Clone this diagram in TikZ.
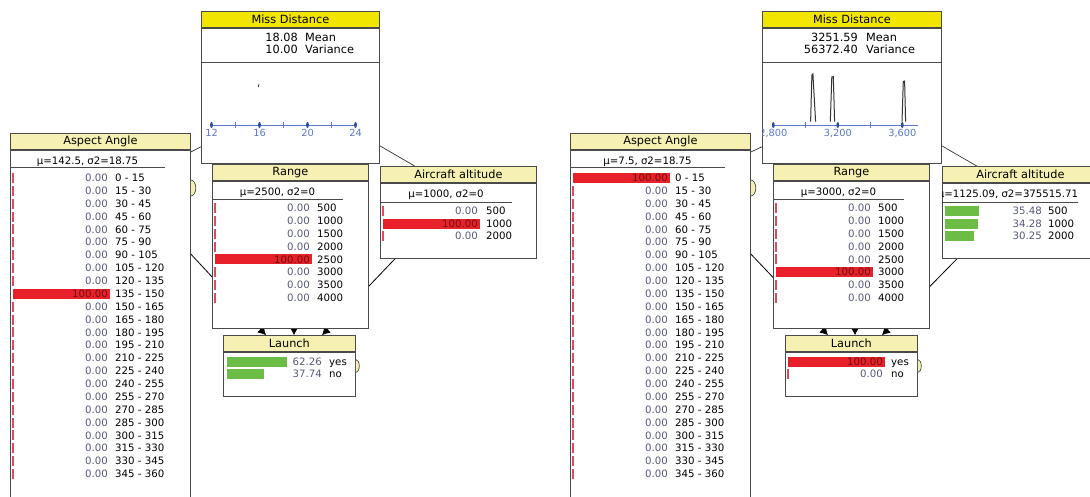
\documentclass[tikz,border=0pt]{standalone}
\usepackage{fontspec}
\setmainfont{DejaVu Sans}
\usetikzlibrary{arrows.meta,positioning,calc,backgrounds}
\definecolor{titlebright}{HTML}{F2E600}
\definecolor{titlepale}{HTML}{F6F1B2}
\definecolor{barred}{HTML}{E8202A}
\definecolor{bargreen}{HTML}{6CBD45}
\definecolor{zerored}{HTML}{E04A5C}
\definecolor{numgray}{HTML}{575A7A}
\definecolor{onred}{HTML}{6E1010}
\definecolor{axisblue}{HTML}{5A78CC}
\definecolor{dotblue}{HTML}{2F4F9F}
\definecolor{edgegray}{HTML}{4A4A4A}
\tikzstyle{monbody} = [rectangle, draw=edgegray, fill=white, anchor=north west, inner sep=0pt, line width=0.8pt]
\tikzstyle{montitle} = [rectangle, draw=edgegray, fill=titlepale, anchor=south west, inner sep=0pt, minimum height=16pt, font=\fontsize{11.3}{13}\selectfont, line width=0.8pt]
\tikzstyle{stattext} = [inner sep=0pt, anchor=base, font=\fontsize{10.2}{12}\selectfont]
\tikzstyle{meantext} = [inner sep=0pt, font=\fontsize{11.3}{13}\selectfont]
\tikzstyle{numtext} = [inner sep=0pt, anchor=base east, text=numgray, font=\fontsize{10.2}{12}\selectfont]
\tikzstyle{labtext} = [inner sep=0pt, anchor=base west, font=\fontsize{10.2}{12}\selectfont]
\tikzstyle{ticklab} = [inner sep=0pt, text=axisblue, font=\fontsize{9.8}{11}\selectfont]
\tikzstyle{link} = [draw=black!80, line width=0.7pt]
\tikzstyle{arrowlink} = [draw=black, line width=0.8pt, -{Latex[length=8pt,width=9pt]}]
\tikzstyle{zerotick} = [draw=zerored, line width=1.1pt]
\tikzstyle{bulge} = [draw=edgegray, fill=titlepale, line width=0.7pt]
\tikzstyle{underline} = [draw=edgegray, line width=0.7pt]
\tikzstyle{spike} = [draw=black!80, line width=1pt]
\begin{document}
\begin{tikzpicture}[x=1pt, y=-1pt]
\useasboundingbox (0,0) rectangle (1090,497);
\clip (0,0) rectangle (1090,497);

% left network
\node (mdL) [monbody, minimum width=178pt, minimum height=135pt] at (201,28) {};
\node (mdL-t) [montitle, fill=titlebright, minimum width=178pt] at (mdL.north west) {Miss Distance};
\node (aaL) [monbody, minimum width=180pt, minimum height=360pt] at (10,150) {};
\node (aaL-t) [montitle, minimum width=180pt] at (aaL.north west) {Aspect Angle};
\node (rgL) [monbody, minimum width=156pt, minimum height=147pt] at (212,181) {};
\node (rgL-t) [montitle, minimum width=156pt] at (rgL.north west) {Range};
\node (altL) [monbody, minimum width=156pt, minimum height=75pt] at (380,183) {};
\node (altL-t) [montitle, minimum width=156pt] at (altL.north west) {Aircraft altitude};
\node (lnL) [monbody, minimum width=132pt, minimum height=44pt] at (223,352) {};
\node (lnL-t) [montitle, minimum width=132pt] at (lnL.north west) {Launch};

% right network
\node (mdR) [monbody, minimum width=179pt, minimum height=135pt] at (762,28) {};
\node (mdR-t) [montitle, fill=titlebright, minimum width=179pt] at (mdR.north west) {Miss Distance};
\node (aaR) [monbody, minimum width=180pt, minimum height=360pt] at (570,150) {};
\node (aaR-t) [montitle, minimum width=180pt] at (aaR.north west) {Aspect Angle};
\node (rgR) [monbody, minimum width=156pt, minimum height=147pt] at (773,181) {};
\node (rgR-t) [montitle, minimum width=156pt] at (rgR.north west) {Range};
\node (altR) [monbody, minimum width=156pt, minimum height=75pt] at (942,183) {};
\node (altR-t) [montitle, minimum width=156pt] at (altR.north west) {Aircraft altitude};
\node (lnR) [monbody, minimum width=132pt, minimum height=44pt] at (785,352) {};
\node (lnR-t) [montitle, minimum width=132pt] at (lnR.north west) {Launch};

% links, behind the monitors
\begin{pgfonlayer}{background}
\fill [white] (0,0) rectangle (1090,497);
\draw [link] ($(mdL.south west)+(0,-17)$) -- ($(aaL.north east)+(0,2)$);
\draw [link] ($(mdL.south east)+(0,-18)$) -- ($(altL-t.north west)+(35,0)$);
\draw [arrowlink] ($(aaL.north east)+(0,104)$) -- ($(lnL-t.north west)+(43,0)$);
\draw [arrowlink] ($(rgL.south west)+(82,0)$) -- ($(lnL-t.north west)+(71,0)$);
\draw [arrowlink] ($(altL.south west)+(15,0)$) -- ($(lnL-t.north west)+(99,0)$);
\draw [link] ($(mdR.south west)+(0,-17)$) -- ($(aaR.north east)+(0,2)$);
\draw [link] ($(mdR.south east)+(0,-18)$) -- ($(altR-t.north west)+(35,0)$);
\draw [arrowlink] ($(aaR.north east)+(0,104)$) -- ($(lnR-t.north west)+(43,0)$);
\draw [arrowlink] ($(rgR.south west)+(82,0)$) -- ($(lnR-t.north west)+(70,0)$);
\draw [arrowlink] ($(altR.south west)+(15,0)$) -- ($(lnR-t.north west)+(97,0)$);
\end{pgfonlayer}

% Miss Distance, left
\node (mdL-m) [meantext, anchor=base east] at ($(mdL.north west)+(97,14)$) {18.08};
\node (mdL-ml) [meantext, anchor=base west] at ($(mdL.north west)+(104,14)$) {Mean};
\node (mdL-v) [meantext, anchor=base east] at ($(mdL.north west)+(97,26)$) {10.00};
\node (mdL-vl) [meantext, anchor=base west] at ($(mdL.north west)+(104,26)$) {Variance};
\draw [underline] ($(mdL.north west)+(0,34)$) -- ($(mdL.north east)+(0,34)$);
\begin{scope}[shift={(mdL.north west)}]
  \draw [axisblue, line width=0.8pt] (10.5,97) -- (156,97);
  \foreach \v [count=\k from 0] in {12,16,20,24} {
    \fill [dotblue] (10.5+48*\k,97) ellipse [x radius=1.4pt, y radius=3pt];
    \node (mdL-x\k) [ticklab] at (10.5+48*\k,105) {\v};
  }
  \foreach \k in {0,1,2}
    \draw [axisblue, line width=0.7pt] (34.5+48*\k,94) -- ++(0,6);
  \draw [black, line width=0.6pt] (58,56) -- (57.3,59);
\end{scope}

% Miss Distance, right
\node (mdR-m) [meantext, anchor=base east] at ($(mdR.north west)+(96,14)$) {3251.59};
\node (mdR-ml) [meantext, anchor=base west] at ($(mdR.north west)+(104,14)$) {Mean};
\node (mdR-v) [meantext, anchor=base east] at ($(mdR.north west)+(96,26)$) {56372.40};
\node (mdR-vl) [meantext, anchor=base west] at ($(mdR.north west)+(104,26)$) {Variance};
\draw [underline] ($(mdR.north west)+(0,34)$) -- ($(mdR.north east)+(0,34)$);
\begin{scope}[shift={(mdR.north west)}]
  \clip (0.5,34.5) rectangle (178.5,134.5);
  \draw [axisblue, line width=0.8pt] (11.3,97) -- (156.3,97);
  \foreach \x in {11.3,75.8,140.3}
    \fill [dotblue] (\x,97) ellipse [x radius=1.4pt, y radius=3pt];
  \node (mdR-x0) [ticklab] at (11.3,105) {2,800};
  \node (mdR-x1) [ticklab] at (75.8,105) {3,200};
  \node (mdR-x2) [ticklab] at (140.3,105) {3,600};
  \foreach \x in {43.5,108}
    \draw [axisblue, line width=0.7pt] (\x,94) -- ++(0,6);
  \draw [spike] (48.6,93.7) -- (49.9,47) -- (50.9,46) -- (53.6,93.7);
  \draw [spike] (68.3,93.7) -- (69.8,49) -- (71.3,48.7) -- (72.6,93.7);
  \draw [spike] (140,93.7) -- (141.3,53.5) -- (142.6,53) -- (143.6,93.7);
\end{scope}

% Aspect Angle, left
\node (aaL-st) [stattext] at ($(aaL.north west)+(77.5,14.6)$) {μ=142.5, σ2=18.75};
\draw [underline] ($(aaL.north west)+(0,17)$) -- ++(155,0);
\foreach \lo [count=\i from 0] in {0,15,...,345} {
  \pgfmathtruncatemacro{\hi}{\lo+15}
  \pgfmathsetmacro{\ry}{28+12.87*\i}
  \ifnum\i=9
    \fill [barred] ($(aaL.north west)+(3,\ry-5)$) rectangle ++(97,10);
    \node (aaL-v\i) [numtext, text=onred] at ($(aaL.north west)+(98,\ry+3.6)$) {100.00};
  \else
    \draw [zerotick] ($(aaL.north west)+(3,\ry-5)$) -- ++(0,10);
    \node (aaL-v\i) [numtext] at ($(aaL.north west)+(98,\ry+3.6)$) {0.00};
  \fi
  \node (aaL-s\i) [labtext] at ($(aaL.north west)+(105,\ry+3.6)$) {\lo{} - \hi};
}

% Aspect Angle, right
\node (aaR-st) [stattext] at ($(aaR.north west)+(77.5,14.6)$) {μ=7.5, σ2=18.75};
\draw [underline] ($(aaR.north west)+(0,17)$) -- ++(155,0);
\foreach \lo [count=\i from 0] in {0,15,...,345} {
  \pgfmathtruncatemacro{\hi}{\lo+15}
  \pgfmathsetmacro{\ry}{28+12.87*\i}
  \ifnum\i=0
    \fill [barred] ($(aaR.north west)+(3,\ry-5)$) rectangle ++(97,10);
    \node (aaR-v\i) [numtext, text=onred] at ($(aaR.north west)+(98,\ry+3.6)$) {100.00};
  \else
    \draw [zerotick] ($(aaR.north west)+(3,\ry-5)$) -- ++(0,10);
    \node (aaR-v\i) [numtext] at ($(aaR.north west)+(98,\ry+3.6)$) {0.00};
  \fi
  \node (aaR-s\i) [labtext] at ($(aaR.north west)+(105,\ry+3.6)$) {\lo{} - \hi};
}

% Range, left
\node (rgL-st) [stattext] at ($(rgL.north west)+(65.5,14.6)$) {μ=2500, σ2=0};
\draw [underline] ($(rgL.north west)+(0,18)$) -- ++(131,0);
\foreach \val/\lab/\w/\tc [count=\i from 0] in {0.00/500/0/numgray, 0.00/1000/0/numgray, 0.00/1500/0/numgray, 0.00/2000/0/numgray, 100.00/2500/100/onred, 0.00/3000/0/numgray, 0.00/3500/0/numgray, 0.00/4000/0/numgray} {
  \pgfmathsetmacro{\ry}{27+12.86*\i}
  \ifnum\w=0
    \draw [zerotick] ($(rgL.north west)+(3,\ry-5)$) -- ++(0,10);
  \else
    \fill [barred] ($(rgL.north west)+(3,\ry-5)$) rectangle ++(0.97*\w,10);
  \fi
  \node (rgL-v\i) [numtext, text=\tc] at ($(rgL.north west)+(98,\ry+3.6)$) {\val};
  \node (rgL-s\i) [labtext] at ($(rgL.north west)+(105,\ry+3.6)$) {\lab};
}

% Range, right
\node (rgR-st) [stattext] at ($(rgR.north west)+(65.5,14.6)$) {μ=3000, σ2=0};
\draw [underline] ($(rgR.north west)+(0,18)$) -- ++(131,0);
\foreach \val/\lab/\w/\tc [count=\i from 0] in {0.00/500/0/numgray, 0.00/1000/0/numgray, 0.00/1500/0/numgray, 0.00/2000/0/numgray, 0.00/2500/0/numgray, 100.00/3000/100/onred, 0.00/3500/0/numgray, 0.00/4000/0/numgray} {
  \pgfmathsetmacro{\ry}{27+12.86*\i}
  \ifnum\w=0
    \draw [zerotick] ($(rgR.north west)+(3,\ry-5)$) -- ++(0,10);
  \else
    \fill [barred] ($(rgR.north west)+(3,\ry-5)$) rectangle ++(0.97*\w,10);
  \fi
  \node (rgR-v\i) [numtext, text=\tc] at ($(rgR.north west)+(98,\ry+3.6)$) {\val};
  \node (rgR-s\i) [labtext] at ($(rgR.north west)+(105,\ry+3.6)$) {\lab};
}

% Aircraft altitude, left
\node (altL-st) [stattext] at ($(altL.north west)+(66,14.6)$) {μ=1000, σ2=0};
\draw [underline] ($(altL.north west)+(0,19)$) -- ++(132,0);
\foreach \val/\lab/\w/\tc [count=\i from 0] in {0.00/500/0/numgray, 100.00/1000/100/onred, 0.00/2000/0/numgray} {
  \pgfmathsetmacro{\ry}{28+12.7*\i}
  \ifnum\w=0
    \draw [zerotick] ($(altL.north west)+(3,\ry-5)$) -- ++(0,10);
  \else
    \fill [barred] ($(altL.north west)+(3,\ry-5)$) rectangle ++(0.97*\w,10);
  \fi
  \node (altL-v\i) [numtext, text=\tc] at ($(altL.north west)+(98,\ry+3.6)$) {\val};
  \node (altL-s\i) [labtext] at ($(altL.north west)+(106,\ry+3.6)$) {\lab};
}

% Aircraft altitude, right
\begin{scope}
  \clip (altR.north west) rectangle (altR.south east);
  \node (altR-st) [stattext] at ($(altR.north west)+(66,14.6)$) {μ=1125.09, σ2=375515.71};
\end{scope}
\draw [underline] ($(altR.north west)+(0,19)$) -- ++(136,0);
\foreach \val/\lab [count=\i from 0] in {35.48/500, 34.28/1000, 30.25/2000} {
  \pgfmathsetmacro{\ry}{28+12.7*\i}
  \fill [bargreen] ($(altR.north west)+(3,\ry-5)$) rectangle ++(0.97*\val,10);
  \node (altR-v\i) [numtext] at ($(altR.north west)+(100,\ry+3.6)$) {\val};
  \node (altR-s\i) [labtext] at ($(altR.north west)+(106,\ry+3.6)$) {\lab};
}

% Launch, left
\foreach \val/\lab [count=\i from 0] in {62.26/yes, 37.74/no} {
  \pgfmathsetmacro{\ry}{10+12*\i}
  \fill [bargreen] ($(lnL.north west)+(4,\ry-5)$) rectangle ++(0.97*\val,10);
  \node (lnL-v\i) [numtext] at ($(lnL.north west)+(99,\ry+3.6)$) {\val};
  \node (lnL-s\i) [labtext] at ($(lnL.north west)+(106,\ry+3.6)$) {\lab};
}

% Launch, right
\foreach \val/\lab/\w/\tc [count=\i from 0] in {100.00/yes/100/onred, 0.00/no/0/numgray} {
  \pgfmathsetmacro{\ry}{10+12*\i}
  \ifnum\w=0
    \draw [zerotick] ($(lnR.north west)+(3,\ry-5)$) -- ++(0,10);
  \else
    \fill [barred] ($(lnR.north west)+(3,\ry-5)$) rectangle ++(0.97*\w,10);
  \fi
  \node (lnR-v\i) [numtext, text=\tc] at ($(lnR.north west)+(98,\ry+3.6)$) {\val};
  \node (lnR-s\i) [labtext] at ($(lnR.north west)+(106,\ry+3.6)$) {\lab};
}

% collapsed-link bulges
\draw [bulge] ($(aaL.north east)+(0,30)$) arc [start angle=90, end angle=-90, x radius=5pt, y radius=8pt];
\draw [bulge] ($(aaR.north east)+(0,30)$) arc [start angle=90, end angle=-90, x radius=5pt, y radius=8pt];
\draw [bulge] ($(lnL.north east)+(0,7.5)$) arc [start angle=90, end angle=-90, x radius=3.5pt, y radius=6.5pt];
\draw [bulge] ($(lnR.north east)+(0,7.5)$) arc [start angle=90, end angle=-90, x radius=3.5pt, y radius=6.5pt];
\end{tikzpicture}
\end{document}
